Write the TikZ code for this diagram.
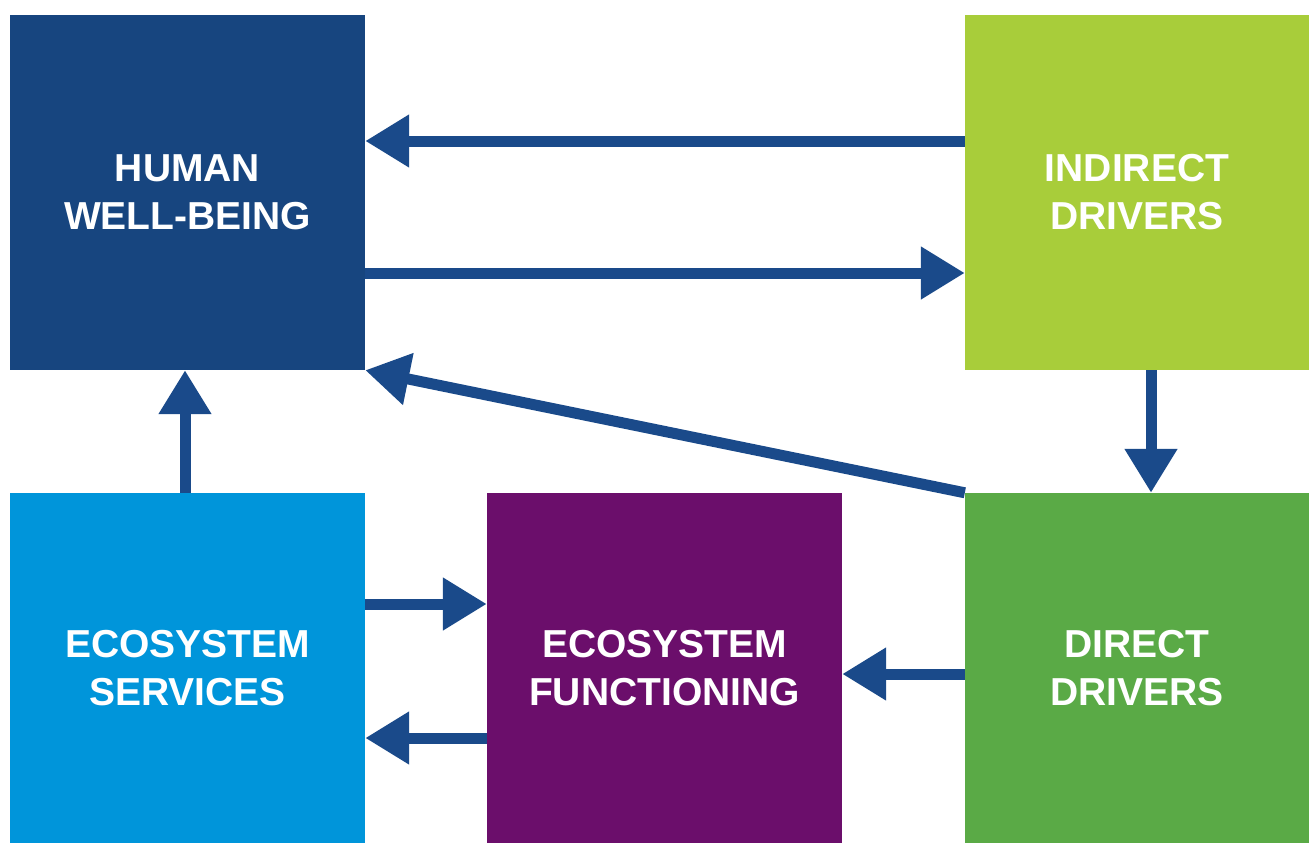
\documentclass[tikz,border=0pt]{standalone}
\usepackage{fontspec}
\setmainfont{Liberation Sans}
\usetikzlibrary{arrows.meta}
\definecolor{hwbc}{HTML}{17457F}
\definecolor{idc}{HTML}{A8CD3A}
\definecolor{ddc}{HTML}{5AAA46}
\definecolor{esc}{HTML}{0095DA}
\definecolor{efc}{HTML}{6B0E6B}
\definecolor{arrc}{HTML}{1A4A8A}
\begin{document}
\begin{tikzpicture}[x=1pt,y=-1pt,
  box/.style={rectangle, inner sep=0pt, text=white, align=center,
    font=\fontsize{39}{48}\selectfont\bfseries},
  conn/.style={draw=arrc, line width=11pt, -{Triangle[length=44pt,width=50pt]}}]
\useasboundingbox (0,0) rectangle (1309,843);
\node[box, fill=hwbc, minimum width=355pt, minimum height=355pt] (hwb) at (187.5,192.5) {HUMAN\\WELL-BEING};
\node[box, fill=idc, minimum width=344pt, minimum height=355pt] (id) at (1137,192.5) {INDIRECT\\DRIVERS};
\node[box, fill=esc, minimum width=355pt, minimum height=350pt] (es) at (187.5,668) {ECOSYSTEM\\SERVICES};
\node[box, fill=efc, minimum width=355pt, minimum height=350pt] (ef) at (664.5,668) {ECOSYSTEM\\FUNCTIONING};
\node[box, fill=ddc, minimum width=344pt, minimum height=350pt] (dd) at (1137,668) {DIRECT\\DRIVERS};
\draw[conn] (id.west |- 0,141) -- (hwb.east |- 0,141);
\draw[conn] (hwb.east |- 0,273) -- (id.west |- 0,273);
\draw[conn] (id.south -| 1151,0) -- (dd.north -| 1151,0);
\draw[conn] (dd.north west) -- (hwb.south east);
\draw[conn] (es.north -| 185,0) -- (hwb.south -| 185,0);
\draw[conn] (es.east |- 0,604) -- (ef.west |- 0,604);
\draw[conn] (ef.west |- 0,738) -- (es.east |- 0,738);
\draw[conn] (dd.west |- 0,674) -- (ef.east |- 0,674);
\end{tikzpicture}
\end{document}
